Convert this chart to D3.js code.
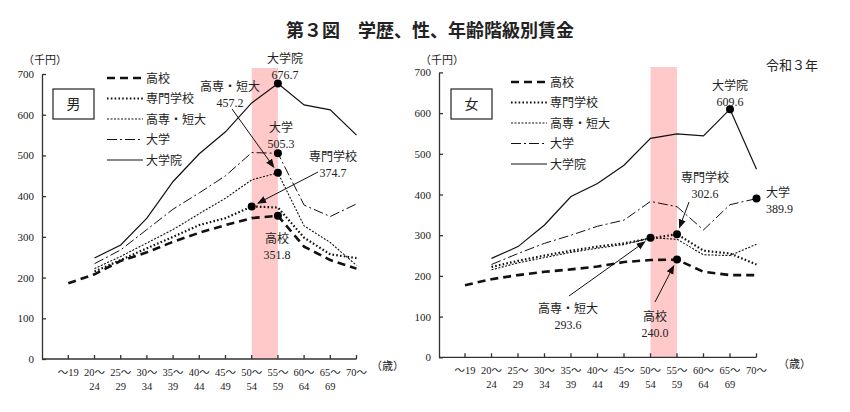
<!DOCTYPE html>
<html>
<head>
	<meta charset="utf-8">
	<script src="https://cdn.jsdelivr.net/npm/d3@7"></script>
	<style>
		body { margin: 0; background: #fff; }
		text { font-family: "Liberation Serif", "Noto Sans CJK JP", serif; fill: #222; }
		.title { font-family: "Noto Sans CJK JP", sans-serif; font-weight: bold; font-size: 18px; }
		.axis path, .axis line { stroke: #333; stroke-width: 1.3; }
		.axis text { font-size: 11px; }
		.series { fill: none; stroke: #111; }
	</style>
</head>
<body>
	<svg></svg>
	<script>
		// age classes, two line labels
		var ageTop = ["～19", "20～", "25～", "30～", "35～", "40～", "45～", "50～", "55～", "60～", "65～", "70～"];
		var ageBottom = ["", "24", "29", "34", "39", "44", "49", "54", "59", "64", "69", ""];
		var yTicks = [0, 100, 200, 300, 400, 500, 600, 700];
		var seriesNames = ["高校", "専門学校", "高専・短大", "大学", "大学院"];

		// 男 (千円)
		var maleKoko = [186, 208, 241, 262, 288, 310, 329, 346, 351.8, 276, 243, 222];
		var maleSenmon = [null, 215, 243, 272, 300, 329, 346, 374.7, 372, 298, 257, 248];
		var maleKosen = [null, 222, 252, 285, 318, 357, 395, 440, 457.2, 327, 286, 230];
		var maleDaigaku = [null, 234, 268, 318, 368, 408, 450, 507, 505.3, 378, 350, 381];
		var maleDaigakuin = [null, 248, 280, 346, 436, 504, 558, 629, 676.7, 624, 612, 550];

		// 女 (千円)
		var femaleKoko = [177, 192, 202, 210, 216, 223, 234, 239, 240.0, 210, 202, 202];
		var femaleSenmon = [null, 222, 237, 250, 262, 272, 280, 292, 302.6, 262, 255, 228];
		var femaleKosen = [null, 215, 232, 245, 258, 268, 277, 293.6, 290, 252, 250, 278];
		var femaleDaigaku = [null, 228, 255, 280, 300, 322, 337, 383, 370, 313, 375, 389.9];
		var femaleDaigakuin = [null, 243, 272, 325, 395, 427, 472, 538, 549, 544, 609.6, 462];

		// line styles, same order as seriesNames
		var styles = [
			{ w: 2.6, dash: "8,5" },
			{ w: 2.2, dash: "1.6,2.2" },
			{ w: 1.1, dash: "2,1.5" },
			{ w: 1, dash: "10,3,2,3" },
			{ w: 1.2, dash: null }
		];

		var svg = d3.select("svg").attr("width", 850).attr("height", 412);

		svg.append("text").attr("class", "title")
			.attr("x", 430).attr("y", 37).attr("text-anchor", "middle")
			.text("第３図　学歴、性、年齢階級別賃金");

		svg.append("text").attr("x", 818).attr("y", 70).attr("text-anchor", "end")
			.style("font-size", "13px").text("令和３年");

		var panels = [
			{
				sex: "男", series: [maleKoko, maleSenmon, maleKosen, maleDaigaku, maleDaigakuin],
				axisX: 42, x0: 68.3, x1: 356.5, y0: 359, y1: 74, bandTop: 68,
				legendX: 107, legendY: 78, box: [53, 89, 41, 30],
				notes: [
					// series index, age index, label lines, label centre, arrow start or null
					{ s: 4, i: 8, lines: ["大学院", "676.7"], x: 285, y: 59, anchor: "middle" },
					{ s: 2, i: 8, lines: ["高専・短大", "457.2"], x: 230, y: 87, anchor: "middle", from: [232, 109] },
					{ s: 3, i: 8, lines: ["大学", "505.3"], x: 281, y: 128, anchor: "middle" },
					{ s: 1, i: 7, lines: ["専門学校", "374.7"], x: 333, y: 157, anchor: "middle", from: [318, 172] },
					{ s: 0, i: 8, lines: ["高校", "351.8"], x: 277, y: 239, anchor: "middle" }
				],
				unitX: 23, unitY: 64, ageX: 371, ageY: 370
			},
			{
				sex: "女", series: [femaleKoko, femaleSenmon, femaleKosen, femaleDaigaku, femaleDaigakuin],
				axisX: 439, x0: 465, x1: 756.5, y0: 357.3, y1: 72.4, bandTop: 67,
				legendX: 511, legendY: 82, box: [451, 89, 41, 30],
				notes: [
					{ s: 4, i: 10, lines: ["大学院", "609.6"], x: 730, y: 86, anchor: "middle" },
					{ s: 1, i: 8, lines: ["専門学校", "302.6"], x: 705, y: 178, anchor: "middle", from: [689, 202] },
					{ s: 3, i: 11, lines: ["大学", "389.9"], x: 766, y: 193, anchor: "start" },
					{ s: 2, i: 7, lines: ["高専・短大", "293.6"], x: 568, y: 309, anchor: "middle", from: [569, 296] },
					{ s: 0, i: 8, lines: ["高校", "240.0"], x: 655, y: 317, anchor: "middle", from: [655, 302] }
				],
				unitX: 420, unitY: 64, ageX: 778, ageY: 368
			}
		];

		var defs = svg.append("defs");
		defs.append("marker").attr("id", "arrow")
			.attr("viewBox", "0 0 10 10").attr("refX", 9).attr("refY", 5)
			.attr("markerWidth", 9).attr("markerHeight", 9).attr("orient", "auto")
			.attr("markerUnits", "userSpaceOnUse")
			.append("path").attr("d", "M0,1 L10,5 L0,9 Z").attr("fill", "#111");

		panels.forEach(function (p) {
			var x = d3.scalePoint().domain(d3.range(ageTop.length)).range([p.x0, p.x1]);
			var y = d3.scaleLinear().domain([0, 700]).range([p.y0, p.y1]);
			var g = svg.append("g");

			// highlight band 50-54 .. 55-59
			g.append("rect").attr("x", x(7)).attr("y", p.bandTop)
				.attr("width", x(8) - x(7)).attr("height", y(0) - p.bandTop)
				.attr("fill", "#ffc9c9");

			// y axis, ticks inward
			g.append("g").attr("class", "axis")
				.attr("transform", "translate(" + p.axisX + ",0)")
				.call(d3.axisLeft(y).tickValues(yTicks).tickSize(-4).tickSizeOuter(0).tickPadding(8));

			// x axis
			var xa = g.append("g").attr("class", "axis")
				.attr("transform", "translate(0," + y(0) + ")");
			xa.append("line").attr("x1", p.axisX).attr("x2", x(11)).attr("stroke", "#333").attr("stroke-width", 1.3);
			xa.selectAll(".tk").data(d3.range(ageTop.length)).enter().append("line")
				.attr("x1", d => x(d)).attr("x2", d => x(d)).attr("y1", 0).attr("y2", -4)
				.attr("stroke", "#333").attr("stroke-width", 1.2);
			var lab = xa.selectAll(".lb").data(d3.range(ageTop.length)).enter().append("text")
				.attr("text-anchor", "middle").style("font-size", "10.5px");
			lab.append("tspan").attr("x", d => x(d)).attr("y", 17).text(d => ageTop[d]);
			lab.append("tspan").attr("x", d => x(d)).attr("y", 31).text(d => ageBottom[d]);

			g.append("text").attr("x", p.unitX).attr("y", p.unitY).style("font-size", "11px").text("（千円）");
			g.append("text").attr("x", p.ageX).attr("y", p.ageY).style("font-size", "11px").text("（歳）");

			// sex box
			g.append("rect").attr("x", p.box[0]).attr("y", p.box[1]).attr("width", p.box[2]).attr("height", p.box[3])
				.attr("fill", "none").attr("stroke", "#222").attr("stroke-width", 1.2);
			g.append("text").attr("x", p.box[0] + p.box[2] / 2).attr("y", p.box[1] + p.box[3] / 2 + 5)
				.attr("text-anchor", "middle").style("font-size", "14px").text(p.sex);

			// lines
			var line = d3.line().defined(d => d[1] != null).x(d => x(d[0])).y(d => y(d[1]));
			p.series.forEach(function (vals, k) {
				g.append("path").attr("class", "series")
					.attr("d", line(vals.map((v, i) => [i, v])))
					.attr("stroke-width", styles[k].w)
					.attr("stroke-dasharray", styles[k].dash);
			});

			// legend
			seriesNames.forEach(function (name, k) {
				var ly = p.legendY + k * 20.5;
				g.append("line").attr("x1", p.legendX).attr("x2", p.legendX + 36)
					.attr("y1", ly).attr("y2", ly).attr("stroke", "#111")
					.attr("stroke-width", styles[k].w).attr("stroke-dasharray", styles[k].dash);
				g.append("text").attr("x", p.legendX + 39).attr("y", ly + 4.5)
					.style("font-size", "12px").text(name);
			});

			// annotations
			p.notes.forEach(function (n) {
				var px = x(n.i), py = y(p.series[n.s][n.i]);
				if (n.from) {
					var dx = px - n.from[0], dy = py - n.from[1];
					var len = Math.sqrt(dx * dx + dy * dy);
					g.append("line").attr("x1", n.from[0]).attr("y1", n.from[1])
						.attr("x2", px - dx / len * 7).attr("y2", py - dy / len * 7)
						.attr("stroke", "#111").attr("stroke-width", 1)
						.attr("marker-end", "url(#arrow)");
				}
				g.append("circle").attr("cx", px).attr("cy", py).attr("r", 4).attr("fill", "#000");
				n.lines.forEach(function (t, j) {
					g.append("text").attr("x", n.x).attr("y", n.y + 4 + j * 15.5)
						.attr("text-anchor", n.anchor).style("font-size", "12px").text(t);
				});
			});
		});
	</script>
</body>
</html>
